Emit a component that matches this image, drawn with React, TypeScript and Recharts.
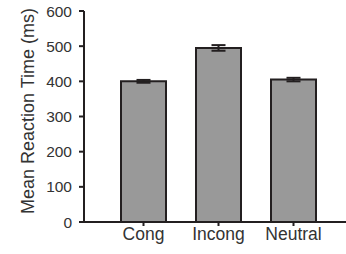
import { BarChart, Bar, XAxis, YAxis, ErrorBar } from "recharts";

const conditions = ["Cong", "Incong", "Neutral"];
const meanRT = [400, 495, 405];
const errRT = [4, 8, 5];
const yTicks = [0, 100, 200, 300, 400, 500, 600];

const data = conditions.map((name, i) => ({ name, rt: meanRT[i], err: errRT[i] }));

const ink = "#231f20";
const textColor = "#333333";
const font = "'Liberation Sans', Arial, sans-serif";

const YTitle = () => (
  <text
    x={34}
    y={111}
    transform="rotate(-90, 34, 111)"
    textAnchor="middle"
    fontSize={18}
    fill={textColor}
    fontFamily={font}
  >
    Mean Reaction Time (ms)
  </text>
);

export default function App() {
  return (
    <div style={{ position: "absolute", left: 0, top: 0, width: 346, height: 254, background: "#fff" }}>
      <BarChart
        width={346}
        height={254}
        data={data}
        margin={{ top: 11, right: 0, left: 0, bottom: 0 }}
        style={{ fontFamily: font }}
      >
        <XAxis
          dataKey="name"
          height={32}
          padding={{ left: 22, right: 15 }}
          axisLine={{ stroke: ink, strokeWidth: 2 }}
          tickLine={{ stroke: ink, strokeWidth: 2 }}
          tickSize={4}
          tick={{ fontSize: 17.5, fill: textColor }}
        />
        <YAxis
          width={84}
          domain={[0, 600]}
          ticks={yTicks}
          interval={0}
          axisLine={{ stroke: ink, strokeWidth: 2 }}
          tickLine={{ stroke: ink, strokeWidth: 2 }}
          tickSize={5}
          tickMargin={7}
          tick={{ fontSize: 15.5, fill: textColor }}
          label={<YTitle />}
        />
        <Bar
          dataKey="rt"
          fill="#999999"
          stroke={ink}
          strokeWidth={2}
          barSize={45}
          isAnimationActive={false}
        >
          <ErrorBar dataKey="err" width={7} stroke={ink} strokeWidth={2} />
        </Bar>
      </BarChart>
    </div>
  );
}
